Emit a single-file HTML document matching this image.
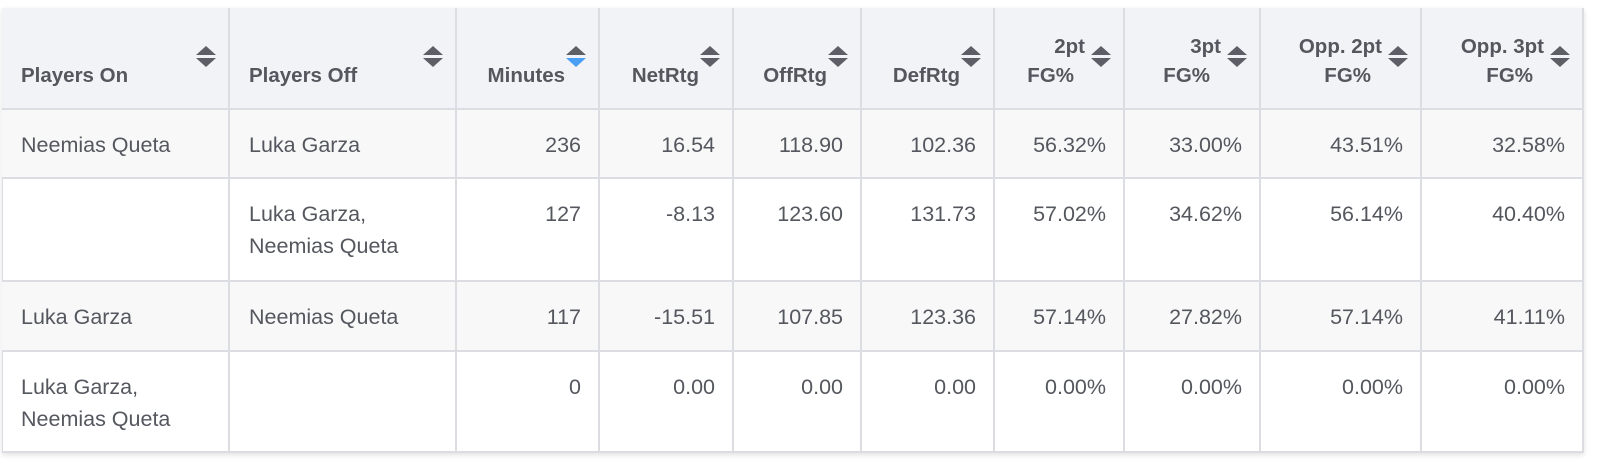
<!DOCTYPE html>
<html><head><style>
body{margin:0;width:1620px;height:472px;background:#fff;font-family:"Liberation Sans",sans-serif;color:#54575e;position:relative;overflow:hidden}
.tbl{position:absolute;left:2px;top:8px;width:1582px;height:445px;box-shadow:0 2px 5px rgba(0,0,0,.12);border:1px solid #dcdde3;box-sizing:border-box}
.c{position:absolute;box-sizing:border-box;border-right:2px solid #dcdde3;border-bottom:2px solid #dcdde3;font-size:21.5px}
.h{background:#f2f3f6;font-weight:bold;color:#54575e;font-size:20.5px}
.ht{position:absolute;bottom:18px;line-height:29px}
.ico{position:absolute;top:38px;width:20px;height:22px}
.ico:before{content:"";position:absolute;left:0;top:0;border-left:10px solid transparent;border-right:10px solid transparent;border-bottom:9px solid #5c5f66}
.ico:after{content:"";position:absolute;left:0;top:12px;border-left:10px solid transparent;border-right:10px solid transparent;border-top:9px solid #5c5f66}
.ico.b:after{border-top-color:#4a9ff5}
.d{padding-top:19px;line-height:32px}
.l{padding-left:19px}
.r{text-align:right;padding-right:17px}
.g{background:#f8f8f9}
</style></head><body>
<div class="tbl"></div>
<div id="t"></div>
<script>
var xs=[2,230,457,600,734,862,995,1125,1261,1422,1584];
var ys=[8,110,179,282,352,453];
var H=[["Players On"],["Players Off"],["Minutes"],["NetRtg"],["OffRtg"],["DefRtg"],["2pt","FG%"],["3pt","FG%"],["Opp. 2pt","FG%"],["Opp. 3pt","FG%"]];
var R=[["Neemias Queta","Luka Garza","236","16.54","118.90","102.36","56.32%","33.00%","43.51%","32.58%"],
["","Luka Garza,<br>Neemias Queta","127","-8.13","123.60","131.73","57.02%","34.62%","56.14%","40.40%"],
["Luka Garza","Neemias Queta","117","-15.51","107.85","123.36","57.14%","27.82%","57.14%","41.11%"],
["Luka Garza,<br>Neemias Queta","","0","0.00","0.00","0.00","0.00%","0.00%","0.00%","0.00%"]];
var s="";
for(var i=0;i<10;i++){
 var w=xs[i+1]-xs[i],x=xs[i],lft=i<2,two=H[i].length>1;
 var txt=two?H[i][0]+'<br><span style="margin-right:11px">'+H[i][1]+'</span>':H[i][0];
 s+='<div class="c h" style="left:'+x+'px;top:8px;width:'+w+'px;height:102px">'+
 '<div class="ht" style="'+(lft?'left:19px':'right:'+(two?38:33)+'px;text-align:right')+'">'+txt+'</div>'+
 '<div class="ico'+(i==2?' b':'')+'" style="right:12px"></div></div>';
}
for(var r=0;r<4;r++)for(var i=0;i<10;i++){
 var w=xs[i+1]-xs[i];
 s+='<div class="c d '+(i<2?'l':'r')+(r%2==0?' g':'')+'" style="left:'+xs[i]+'px;top:'+ys[r+1]+'px;width:'+w+'px;height:'+(ys[r+2]-ys[r+1])+'px">'+R[r][i]+'</div>';
}
document.getElementById("t").innerHTML=s;
</script>
</body></html>
